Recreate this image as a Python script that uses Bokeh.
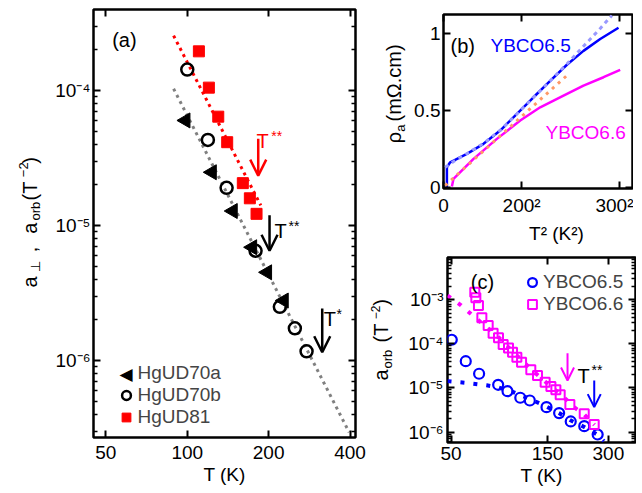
import numpy as np
from bokeh.plotting import figure
from bokeh.models import (FixedTicker, CustomJSTickFormatter, LogAxis, LinearAxis, Label,
                          Arrow, OpenHead, Legend, LegendItem, Range1d)
from bokeh.layouts import row, column
from bokeh.embed import file_html
from bokeh.resources import INLINE

FONT = "Liberation Sans"

# ---------------- panel (a) data ----------------
T_70a = [98.6, 123.4, 147.5, 174.0, 197.6, 227.7]
a_70a = [6.0e-5, 2.48e-5, 1.28e-5, 6.9e-6, 4.5e-6, 2.78e-6]
T_70b = [100.0, 119.2, 139.8, 178.9, 220.0, 250.0, 276.2]
a_70b = [1.43e-4, 4.3e-5, 1.9e-5, 6.5e-6, 2.5e-6, 1.73e-6, 1.17e-6]
T_81 = [110.4, 120.2, 130.2, 140.5, 160.5, 170.4, 180.4]
a_81 = [1.95e-4, 1.05e-4, 6.4e-5, 4.14e-5, 2.06e-5, 1.59e-5, 1.22e-5]
fit70_T = [89, 397]
fit70_a = [1.03e-4, 2.94e-7]
fit81_T = [89, 187]
fit81_a = [2.55e-4, 1.41e-5]
arrow_a_T = [183.0, 201.5, 315.6]
arrow_a_top = [4.4e-5, 1.19e-5, 2.43e-6]
arrow_a_bot = [2.34e-5, 6.5e-6, 1.15e-6]
arrow_a_col = ["#ff0000", "black", "black"]
xticks_a = [50, 100, 200, 400]
yticks_a = [1e-6, 1e-5, 1e-4]

# ---------------- panel (b) data ----------------
b65_T2 = [1740, 1740, 3430, 11990, 20490, 29040, 37600, 46100, 54650, 63200, 71700, 80270, 89640]
b65_rho = [0.0, 0.13, 0.162, 0.217, 0.282, 0.368, 0.476, 0.584, 0.69, 0.795, 0.885, 0.962, 1.035]
b65fit_T2 = [870, 6000, 12000, 20490, 29040, 37600, 46100, 54650, 63200, 71700, 80270, 86250]
b65fit_rho = [0.13, 0.175, 0.218, 0.285, 0.37, 0.476, 0.585, 0.69, 0.80, 0.915, 1.03, 1.115]
b66_T2 = [4300, 5120, 15370, 27350, 39290, 49530, 61470, 71700, 81960, 90500]
b66_rho = [0.005, 0.055, 0.184, 0.314, 0.433, 0.519, 0.595, 0.66, 0.714, 0.762]
b66fit_T2 = [870, 63200]
b66fit_rho = [0.011, 0.725]
xticks_b = [0, 40000, 90000]
yticks_b = [0, 0.5, 1]

# ---------------- panel (c) data ----------------
T65 = [50.4, 59.1, 68.8, 85.5, 95.1, 110, 122.6, 148.3, 171.2, 195.4, 228, 265.6]
a65 = [1.24e-4, 4.05e-5, 2.1e-5, 1.18e-5, 8.45e-6, 6.0e-6, 5.2e-6, 3.67e-6, 2.69e-6, 1.74e-6, 1.36e-6, 8.8e-7]
T66 = [65.5, 66.3, 68.3, 71.0, 76.3, 80.7, 85.8, 90.5, 96.2, 100.7, 105.8, 111.6, 124, 133.8,
       146, 155.9, 165, 173.3, 193.5, 227.9, 255.3]
a66 = [1.49e-3, 1.11e-3, 7.4e-4, 3.9e-4, 2.61e-4, 1.75e-4, 1.37e-4, 9.7e-5, 8.1e-5, 6.5e-5,
       5.0e-5, 3.85e-5, 2.58e-5, 1.92e-5, 1.35e-5, 1.08e-5, 9.1e-6, 7.0e-6, 4.23e-6, 2.6e-6, 1.49e-6]
fit65_T = [48, 60, 75, 85, 100, 123, 148, 171, 195, 228, 266, 285]
fit65_a = [1.43e-5, 1.3e-5, 1.15e-5, 1.04e-5, 8.3e-6, 5.6e-6, 3.8e-6, 2.7e-6, 1.85e-6, 1.3e-6, 8.6e-7, 6.2e-7]
fit66_T = [48, 56, 64, 72, 86, 100, 124, 146, 173, 188, 203, 228, 256]
fit66_a = [1.25e-3, 7.5e-4, 4.4e-4, 2.8e-4, 1.4e-4, 7e-5, 2.7e-5, 1.4e-5, 7.3e-6, 5.2e-6, 3.67e-6, 2.5e-6, 1.45e-6]
arrow_c_T = [188.4, 255.4]
arrow_c_top = [6.15e-5, 1.48e-5]
arrow_c_bot = [1.48e-5, 3.67e-6]
arrow_c_col = ["#ff00ff", "#0000ff"]
xticks_c = [50, 150, 300]
yticks_c = [1e-6, 1e-5, 1e-4, 1e-3]

# ---------------- helpers ----------------
SUP_JS = """
const m = {'-':'\\u207B','0':'\\u2070','1':'\\u00B9','2':'\\u00B2','3':'\\u00B3','4':'\\u2074',
           '5':'\\u2075','6':'\\u2076','7':'\\u2077','8':'\\u2078','9':'\\u2079'};
const e = Math.round(Math.log10(tick));
return '10' + String(e).split('').map(c => m[c]).join('');
"""
INT_JS = "return tick.toFixed(0);"
EMPTY_JS = "return '';"


def minor_log(lo_exp, hi_exp):
    return [k * 10.0 ** e for e in range(lo_exp, hi_exp + 1) for k in range(2, 10)]


def make_fig(xr, yr, xtype, ytype, fw, fh, bl, br, bt, bb):
    p = figure(x_range=Range1d(*xr), y_range=Range1d(*yr), x_axis_type=xtype, y_axis_type=ytype,
               frame_width=fw, frame_height=fh, min_border_left=bl, min_border_right=br,
               min_border_top=bt, min_border_bottom=bb, output_backend="svg",
               toolbar_location=None)
    p.xgrid.visible = False
    p.ygrid.visible = False
    p.outline_line_color = "black"
    p.outline_line_width = 2.5
    p.outline_line_alpha = 1.0
    p.background_fill_color = "white"
    p.border_fill_color = "white"
    return p


def label_fig(fw, fh, bt, bb):
    # a text-only strip whose frame has the same vertical extent as its neighbour panel
    p = figure(frame_width=fw, frame_height=fh, x_range=(0, fw), y_range=(0, fh),
               min_border_left=0, min_border_right=0, min_border_top=bt, min_border_bottom=bb,
               x_axis_location=None, y_axis_location=None, output_backend="svg",
               toolbar_location=None)
    p.xgrid.visible = False
    p.ygrid.visible = False
    p.outline_line_color = None
    p.background_fill_color = "white"
    p.border_fill_color = "white"
    return p


def style_axis(ax, labels=True, standoff=4):
    ax.axis_line_color = None
    ax.major_tick_in = 7
    ax.major_tick_out = 0
    ax.minor_tick_in = 4
    ax.minor_tick_out = 0
    ax.major_tick_line_width = 2
    ax.minor_tick_line_width = 1.5
    ax.major_tick_line_color = "black"
    ax.minor_tick_line_color = "black"
    ax.major_label_text_font = FONT
    ax.major_label_text_color = "black"
    ax.axis_label_text_font = FONT
    ax.axis_label_text_font_style = "normal"
    ax.axis_label_text_font_size = "19px"
    ax.axis_label_text_color = "black"
    if labels:
        ax.major_label_text_font_size = "19px"
        ax.major_label_standoff = standoff
    else:
        ax.formatter = CustomJSTickFormatter(code=EMPTY_JS)
        ax.major_label_text_font_size = "1px"
        ax.major_label_standoff = 0


def mirror(p, xt, yt, xlog, ylog):
    top = (LogAxis if xlog else LinearAxis)(ticker=xt)
    style_axis(top, labels=False)
    p.add_layout(top, "above")
    right = (LogAxis if ylog else LinearAxis)(ticker=yt)
    style_axis(right, labels=False)
    p.add_layout(right, "right")


def lab(p, text, sx, sy, size="19px", color="black", angle=0, font=FONT,
        align="left", baseline="alphabetic"):
    p.add_layout(Label(x=sx, y=sy, x_units="screen", y_units="screen", text=text,
                       angle=angle, angle_units="deg", text_font=font, text_font_size=size,
                       text_color=color, text_align=align, text_baseline=baseline))


# ================= panel (a) =================
pa = make_fig((45.0, 419.0), (2.69e-7, 3.98e-4), "log", "log", 262, 428, 48, 11, 9, 48)
xt_a = FixedTicker(ticks=xticks_a, minor_ticks=[])
yt_a = FixedTicker(ticks=yticks_a, minor_ticks=minor_log(-7, -4))
bx = pa.below[0]
bx.ticker = xt_a
bx.formatter = CustomJSTickFormatter(code=INT_JS)
style_axis(bx, standoff=8)
bx.axis_label = "T (K)"
bx.axis_label_standoff = 2
ly = pa.left[0]
ly.ticker = yt_a
ly.formatter = CustomJSTickFormatter(code=SUP_JS)
style_axis(ly, standoff=3)
mirror(pa, xt_a, yt_a, True, True)

pa.line(fit70_T, fit70_a, line_color="#808080", line_width=3, line_dash="3 4")
pa.line(fit81_T, fit81_a, line_color="#ff0000", line_width=3, line_dash="3 4")
r_tri = pa.scatter(T_70a, a_70a, marker="triangle", size=15, angle=np.pi / 2,
                   fill_color="black", line_color="black")
r_circ = pa.scatter(T_70b, a_70b, marker="circle", size=12, fill_color=None,
                    line_color="black", line_width=2.5)
r_sq = pa.scatter(T_81, a_81, marker="square", size=11, fill_color="#ff0000",
                  line_color="#ff0000")
# legend proxy for the left-pointing triangle (legend glyphs are never rotated)
r_tri_proxy = pa.scatter([], [], marker="square", size=1, fill_alpha=0, line_alpha=0)
for T, y0, y1, c in zip(arrow_a_T, arrow_a_top, arrow_a_bot, arrow_a_col):
    pa.add_layout(Arrow(end=OpenHead(size=16, line_width=2.5, line_color=c),
                        x_start=T, y_start=y0, x_end=T, y_end=y1,
                        line_width=2.5, line_color=c))

leg_a = Legend(items=[LegendItem(label="HgUD70a", renderers=[r_tri_proxy]),
                      LegendItem(label="HgUD70b", renderers=[r_circ]),
                      LegendItem(label="HgUD81", renderers=[r_sq])],
               location=(20.5, 9), glyph_width=24, glyph_height=22, spacing=0, padding=0,
               margin=0, label_standoff=0, border_line_color=None, background_fill_alpha=0,
               label_text_font=FONT, label_text_font_size="19px", label_height=22)
pa.add_layout(leg_a)
lab(pa, "\u25c0", 32.5, 64, "17px", font="DejaVu Sans", align="center", baseline="middle")

lab(pa, "(a)", 18.7, 398, "20px")
lab(pa, "T", 163, 297, "20px", "#ff0000")
lab(pa, "**", 177.7, 302, "14px", "#ff0000")
lab(pa, "T", 181, 207, "20px")
lab(pa, "**", 195, 212, "14px")
lab(pa, "T", 230.3, 118.7, "20px")
lab(pa, "*", 243, 124, "14px")

# y label of (a):  a_perp , a_orb (T^-2)
la = label_fig(45, 428, 9, 48)
lab(la, "a", 29.7, 150, "20px", angle=90)
lab(la, "\u22a5", 34.7, 165.3, "13px", angle=90)
lab(la, ",", 29.7, 185.3, "20px", angle=90)
lab(la, "a", 29.7, 203.7, "20px", angle=90)
lab(la, "orb", 34.7, 217, "13px", angle=90)
lab(la, "(T", 29.7, 237, "20px", angle=90)
lab(la, "\u22122", 22.5, 260.3, "13px", angle=90)
lab(la, ")", 29.7, 273.7, "20px", angle=90)

# ================= panel (b) =================
pb = make_fig((0, 96800), (-0.008, 1.121), "linear", "linear", 189, 174, 33, 1, 14, 60)
xt_b = FixedTicker(ticks=xticks_b, minor_ticks=[])
yt_b = FixedTicker(ticks=yticks_b, minor_ticks=[])
bxb = pb.below[0]
bxb.ticker = xt_b
bxb.formatter = CustomJSTickFormatter(
    code="return tick == 0 ? '0' : Math.round(Math.sqrt(tick)) + '\\u00B2';")
style_axis(bxb, standoff=6)
bxb.axis_label = "\u00a0" * 7 + "T\u00b2 (K\u00b2)"
bxb.axis_label_standoff = 4
lyb = pb.left[0]
lyb.ticker = yt_b
lyb.formatter = CustomJSTickFormatter(code="return String(tick);")
style_axis(lyb, standoff=3)
mirror(pb, xt_b, yt_b, False, False)

pb.line(b65_T2, b65_rho, line_color="#0000ff", line_width=2.5)
pb.line(b65fit_T2, b65fit_rho, line_color="#9999ff", line_width=3, line_dash="4 4")
pb.line(b66_T2, b66_rho, line_color="#ff00ff", line_width=2.5)
pb.line(b66fit_T2, b66fit_rho, line_color="#ff9966", line_width=3, line_dash="3 5")

lab(pb, "(b)", 7, 143, "20px")
lab(pb, "YBCO6.5", 47, 143, "19px", "#0000ff")
lab(pb, "YBCO6.6", 102, 56.3, "19px", "#ff00ff")

lb = label_fig(44, 174, 14, 60)
lab(lb, "\u03c1", 27.3, 45.3, "20px", angle=90)
lab(lb, "a", 34.2, 56.8, "13px", angle=90)
lab(lb, "(m\u03a9.cm)", 27.3, 67, "20px", angle=90)

# ================= panel (c) =================
pc = make_fig((48.0, 408.7), (5.8e-7, 9.1e-3), "log", "log", 188, 185, 40, 1, 9, 43)
xt_c = FixedTicker(ticks=xticks_c, minor_ticks=[])
yt_c = FixedTicker(ticks=yticks_c, minor_ticks=minor_log(-7, -3))
bxc = pc.below[0]
bxc.ticker = xt_c
bxc.formatter = CustomJSTickFormatter(code=INT_JS)
style_axis(bxc, standoff=4)
bxc.axis_label = "T (K)"
bxc.axis_label_standoff = 2
lyc = pc.left[0]
lyc.ticker = yt_c
lyc.formatter = CustomJSTickFormatter(code=SUP_JS)
style_axis(lyc, standoff=4)
mirror(pc, xt_c, yt_c, True, True)

pc.line(fit65_T, fit65_a, line_color="#0000ff", line_width=4, line_dash="4 9")
pc.line(fit66_T, fit66_a, line_color="#ff00ff", line_width=4, line_dash="4 9")
r65 = pc.scatter(T65, a65, marker="circle", size=10, fill_color=None,
                 line_color="#0000ff", line_width=2.2)
r66 = pc.scatter(T66, a66, marker="square", size=9, fill_color=None,
                 line_color="#ff00ff", line_width=2)
for T, y0, y1, c in zip(arrow_c_T, arrow_c_top, arrow_c_bot, arrow_c_col):
    pc.add_layout(Arrow(end=OpenHead(size=13, line_width=2, line_color=c),
                        x_start=T, y_start=y0, x_end=T, y_end=y1,
                        line_width=2, line_color=c))
leg_c = Legend(items=[LegendItem(label="YBCO6.5", renderers=[r65]),
                      LegendItem(label="YBCO6.6", renderers=[r66])],
               location=(74, 127.3), glyph_width=22, glyph_height=22, spacing=0, padding=0,
               margin=0, label_standoff=0, border_line_color=None, background_fill_alpha=0,
               label_text_font=FONT, label_text_font_size="19px", label_height=22)
pc.add_layout(leg_c)

lab(pc, "(c)", 23.3, 161, "20px")
lab(pc, "T", 130, 67, "20px")
lab(pc, "**", 144, 73, "14px")

lc = label_fig(39, 185, 9, 43)
lab(lc, "a", 14, 62, "20px", angle=90)
lab(lc, "orb", 21, 74, "13px", angle=90)
lab(lc, "(T", 14, 100, "20px", angle=90)
lab(lc, "\u22122", 9, 123.3, "12px", angle=90)
lab(lc, ")", 14, 136.7, "20px", angle=90)

layout = row(la, pa, column(row(lb, pb), row(lc, pc)))
open("out.html", "w").write(file_html(layout, INLINE))
